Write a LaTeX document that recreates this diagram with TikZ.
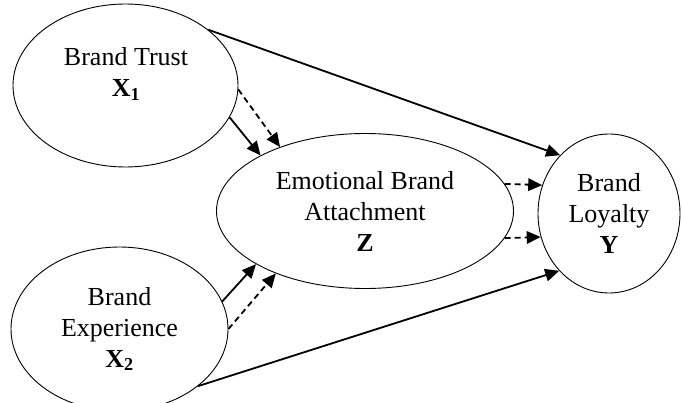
\documentclass[tikz,border=0pt]{standalone}
\usepackage{fontspec}
\setmainfont{Liberation Serif}
\usetikzlibrary{arrows.meta,shapes.geometric}

\begin{document}
\begin{tikzpicture}[
  x=1pt, y=-1pt,
  font=\fontsize{26}{31}\selectfont,
  %===========================================================
  % Construct (latent variable) styles
  %===========================================================
  construct/.style={
    ellipse,
    draw=black,
    line width=0.9pt,
    inner sep=0pt,
    align=center
  },
  %===========================================================
  % Paths
  %===========================================================
  direct/.style={
    -{Triangle[length=14pt,width=12.5pt]},
    draw=black,
    line width=1.8pt
  },
  mediated/.style={
    direct,
    dash pattern=on 6pt off 4pt
  }
]
  \useasboundingbox (0,0) rectangle (682,403);

  %====================================================================
  % Constructs: two exogenous on the left, mediator in the middle,
  % outcome on the right.
  %====================================================================
  \node[construct, minimum width=225pt, minimum height=163pt] (trust) at (125.5, 85.5) {};
  \node[align=center] (trustlabel) at (126, 74) {Brand Trust\\\textbf{X\textsubscript{1}}};

  \node[construct, minimum width=217pt, minimum height=164pt] (exper) at (119.5, 329)
    {Brand\\Experience\\\textbf{X\textsubscript{2}}};

  \node[construct, minimum width=297pt, minimum height=155pt] (attach) at (365, 211)
    {Emotional Brand\\Attachment\\\textbf{Z}};

  \node[construct, minimum width=142pt, minimum height=159pt] (loyal) at (609, 213.5)
    {Brand\\Loyalty\\\textbf{Y}};

  %====================================================================
  % Direct effects -- solid.
  %====================================================================
  \draw[direct] (trust.34)  -- (loyal.130);
  \draw[direct] (exper.-36) -- (loyal.229);
  \draw[direct] (trust.-17) -- (attach.152);
  \draw[direct] (exper.15)  -- (attach.206);

  %====================================================================
  % Indirect effects through the mediator -- dashed.
  %====================================================================
  \draw[mediated] (trust.-2)   -- (attach.143);
  \draw[mediated] (exper.0.5)  -- (attach.215);
  \draw[mediated] (attach.11)  -- (loyal.157);
  \draw[mediated] (attach.-11) -- (loyal.199);

\end{tikzpicture}
\end{document}
